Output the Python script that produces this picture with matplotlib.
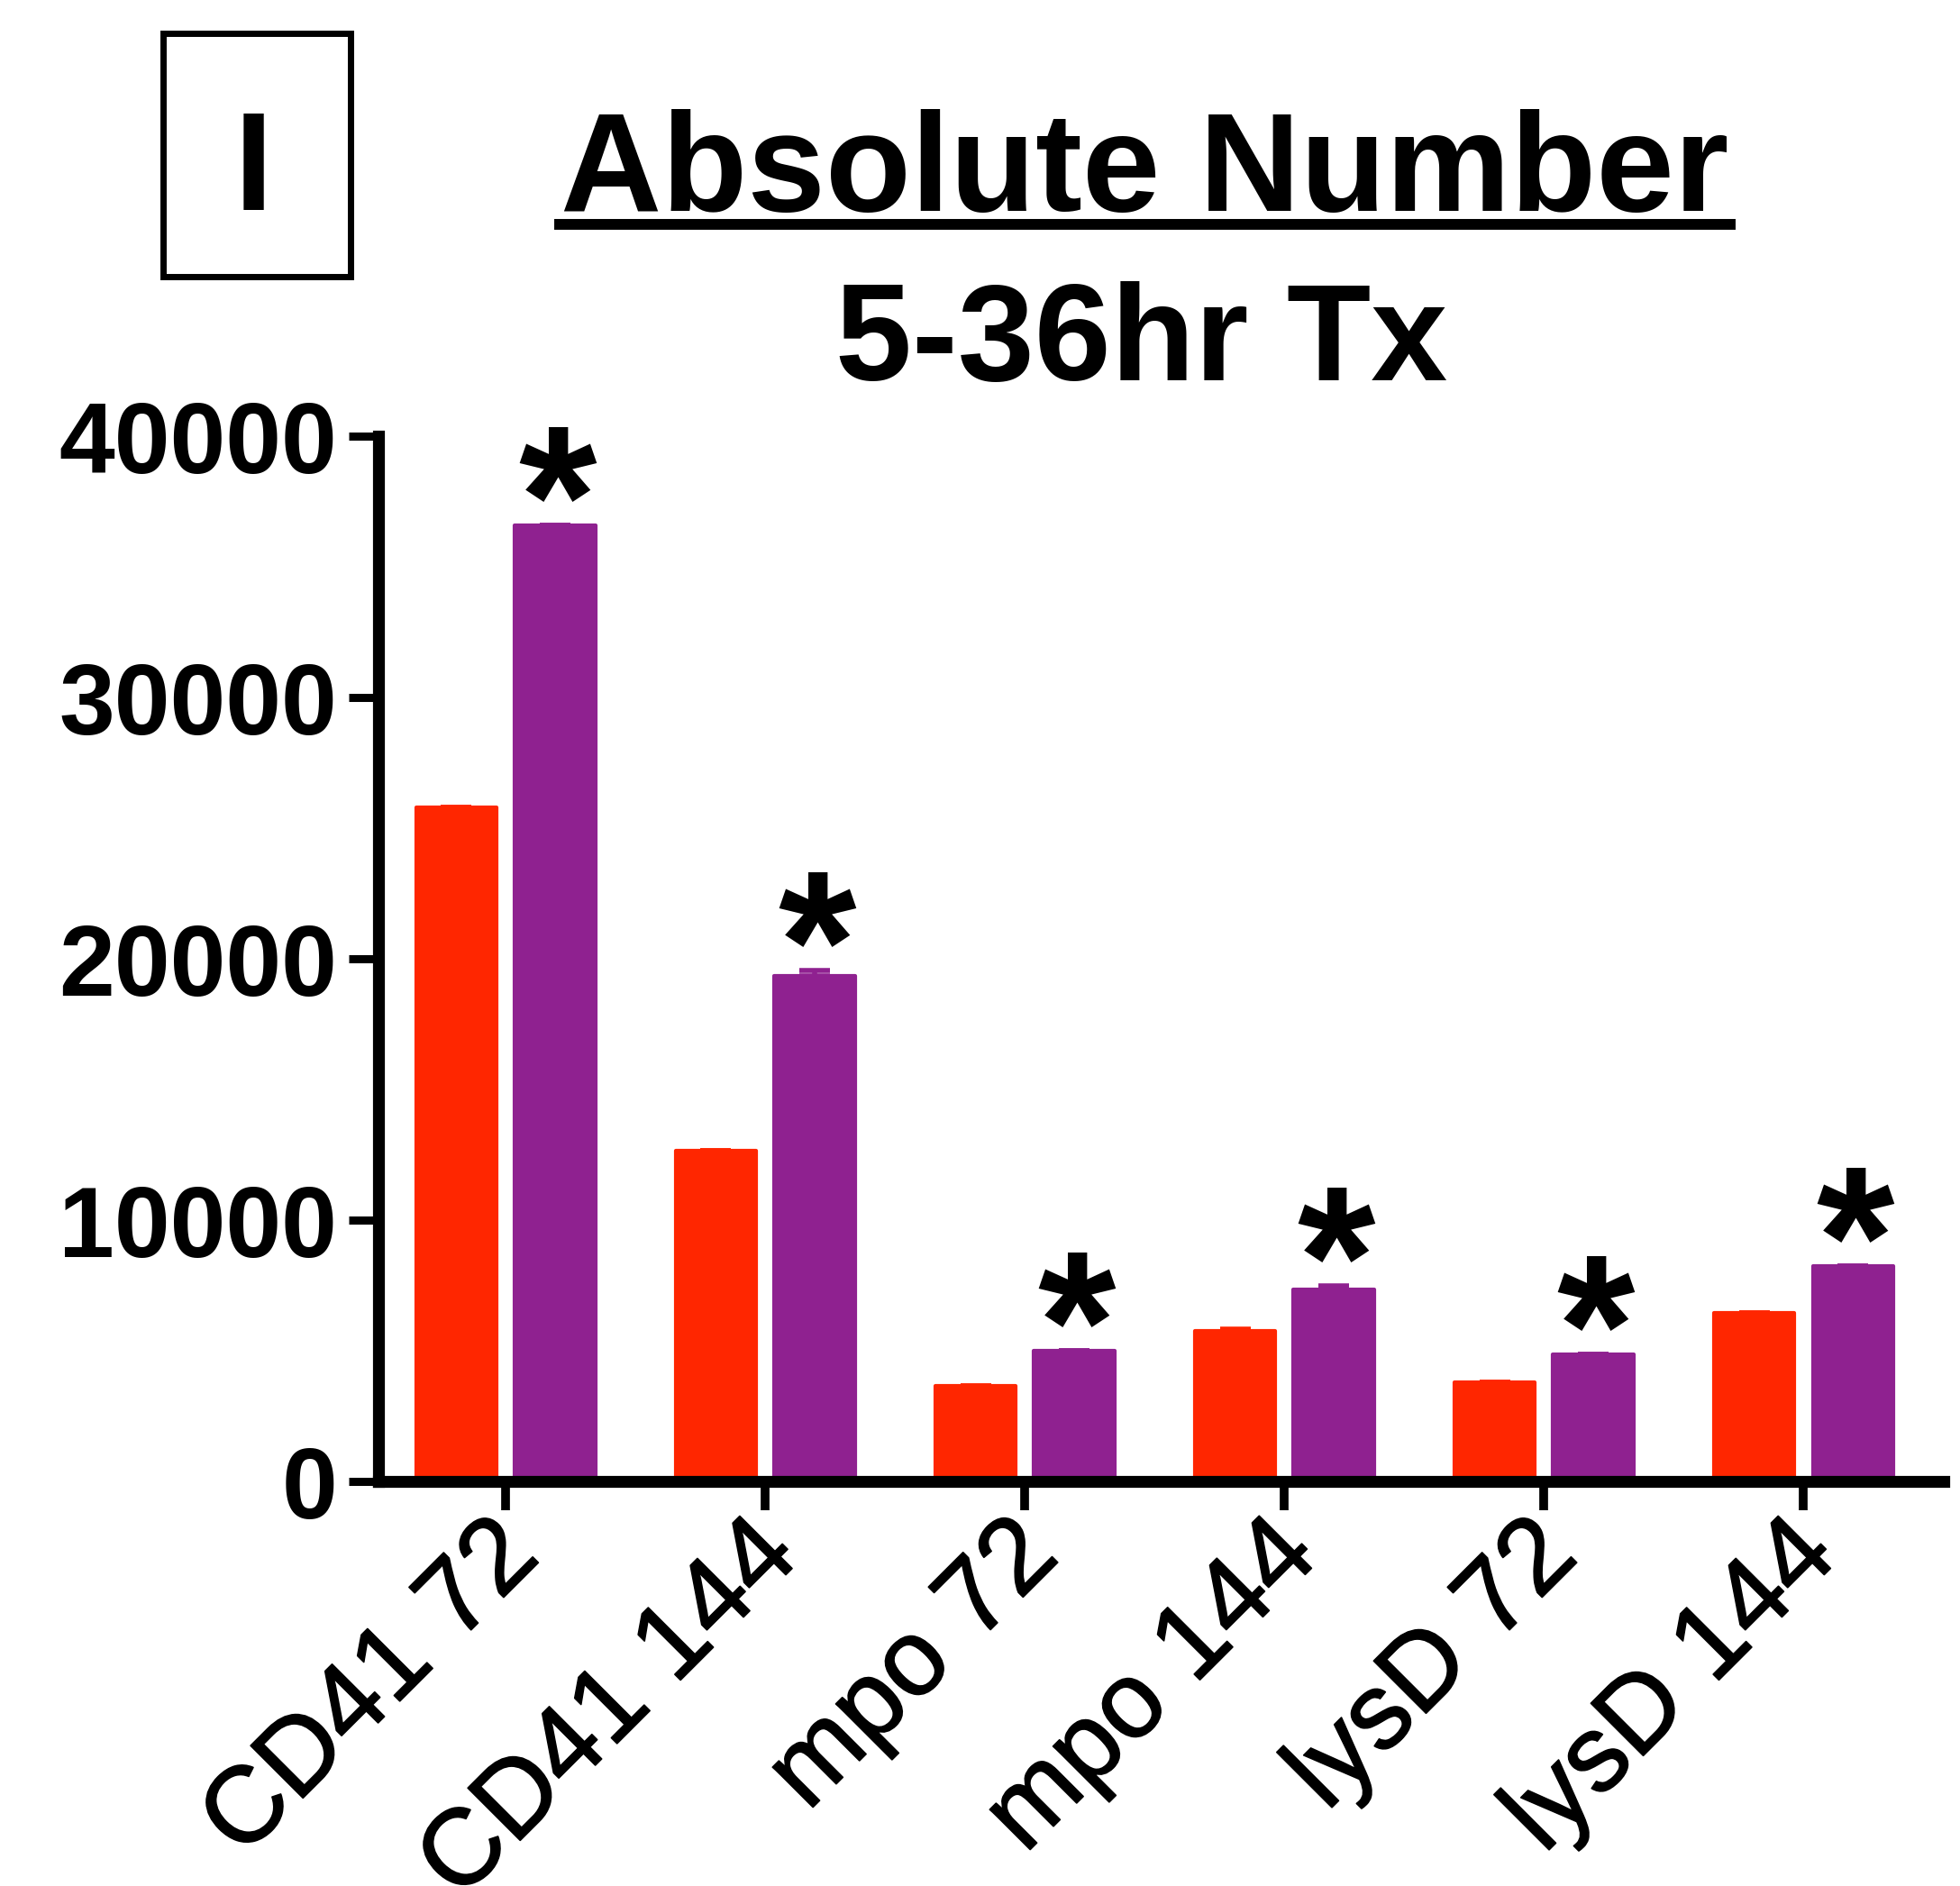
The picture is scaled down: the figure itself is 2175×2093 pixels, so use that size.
import matplotlib
matplotlib.use('Agg')
from matplotlib import pyplot as plt
from matplotlib.patches import Rectangle
from matplotlib.lines import Line2D
from matplotlib.transforms import ScaledTranslation
import matplotlib.patheffects as pe
import numpy as np

plt.rcParams['font.family'] = ['Liberation Sans', 'DejaVu Sans']

# values
categories = ['CD41 72', 'CD41 144', 'mpo 72', 'mpo 144', 'lysD 72', 'lysD 144']
ctrl = [25800, 12650, 3650, 5750, 3800, 6450]
treated = [36600, 19350, 5000, 7350, 4850, 8250]
ctrl_err = [0, 0, 0, 80, 0, 0]
treated_err = [0, 200, 0, 150, 0, 0]
yticks = [0, 10000, 20000, 30000, 40000]

red = '#FF2600'
purple = '#8F2190'

W, H = 2175, 2093
fig = plt.figure(figsize=(W / 100, H / 100), dpi=100)
ax = fig.add_axes([420 / W, 1 - 1644 / H, (2157 - 420) / W, (1644 - 484) / H])

x = np.arange(len(categories))
bw = 0.31
off = 0.19
zeros = np.zeros(len(categories))

ax.bar(x - off, ctrl, bw, color=red, edgecolor=red, linewidth=3, joinstyle='round', zorder=2)
ax.bar(x + off, treated, bw, color=purple, edgecolor=purple, linewidth=3, joinstyle='round', zorder=2)
ax.errorbar(x - off, ctrl, yerr=[zeros, ctrl_err], fmt='none', ecolor=red,
            elinewidth=4, capsize=12, capthick=4, zorder=1)
ax.errorbar(x + off, treated, yerr=[zeros, treated_err], fmt='none', ecolor=purple,
            elinewidth=4, capsize=12, capthick=4, zorder=1)

# significance stars above the treated bars
for i in range(len(categories)):
    ax.annotate('*', xy=(x[i] + off, treated[i] + treated_err[i]), xytext=(2, -31),
                textcoords='offset points', ha='center', va='baseline',
                fontsize=160, fontweight='bold', annotation_clip=False)

ax.set_xlim(-0.49, 5.54)
ax.set_ylim(0, 40000)
ax.set_yticks(yticks)
ax.set_yticklabels([str(v) for v in yticks], fontsize=80, fontweight='bold')
ax.set_xticks(x)
ax.set_xticklabels(categories, fontsize=86, rotation=45, ha='right', va='top',
                   rotation_mode='anchor')

for side in ['top', 'right']:
    ax.spines[side].set_visible(False)
for side in ['left', 'bottom']:
    ax.spines[side].set_linewidth(9.5)
ax.tick_params(axis='y', direction='out', length=24, width=6.5, pad=9)
ax.tick_params(axis='x', direction='out', length=23, width=7, pad=15)

shift = ScaledTranslation(-20 / 100, 28 / 100, fig.dpi_scale_trans)
for lab in ax.get_xticklabels():
    lab.set_transform(lab.get_transform() + shift)
    lab.set_path_effects([pe.withStroke(linewidth=1.2, foreground='black')])

# headings
fig.text(1270 / W, 1 - 234 / H, 'Absolute Number', ha='center', va='baseline',
         fontsize=112, fontweight='bold')
fig.add_artist(Line2D([621 / W, 1920 / W], [1 - 249 / H, 1 - 249 / H],
                      linewidth=8.6, color='black', transform=fig.transFigure))
fig.text(1267 / W, 1 - 422 / H, '5-36hr Tx', ha='center', va='baseline',
         fontsize=110, fontweight='bold')

# panel letter in a box
fig.add_artist(Rectangle((180.5 / W, 1 - 306.5 / H), 208 / W, 270 / H, fill=False,
                         linewidth=5, edgecolor='black', transform=fig.transFigure))
fig.text(281 / W, 1 - 233 / H, 'I', ha='center', va='baseline',
         fontsize=112, fontweight='bold')

fig.savefig('out.png', dpi=100)
